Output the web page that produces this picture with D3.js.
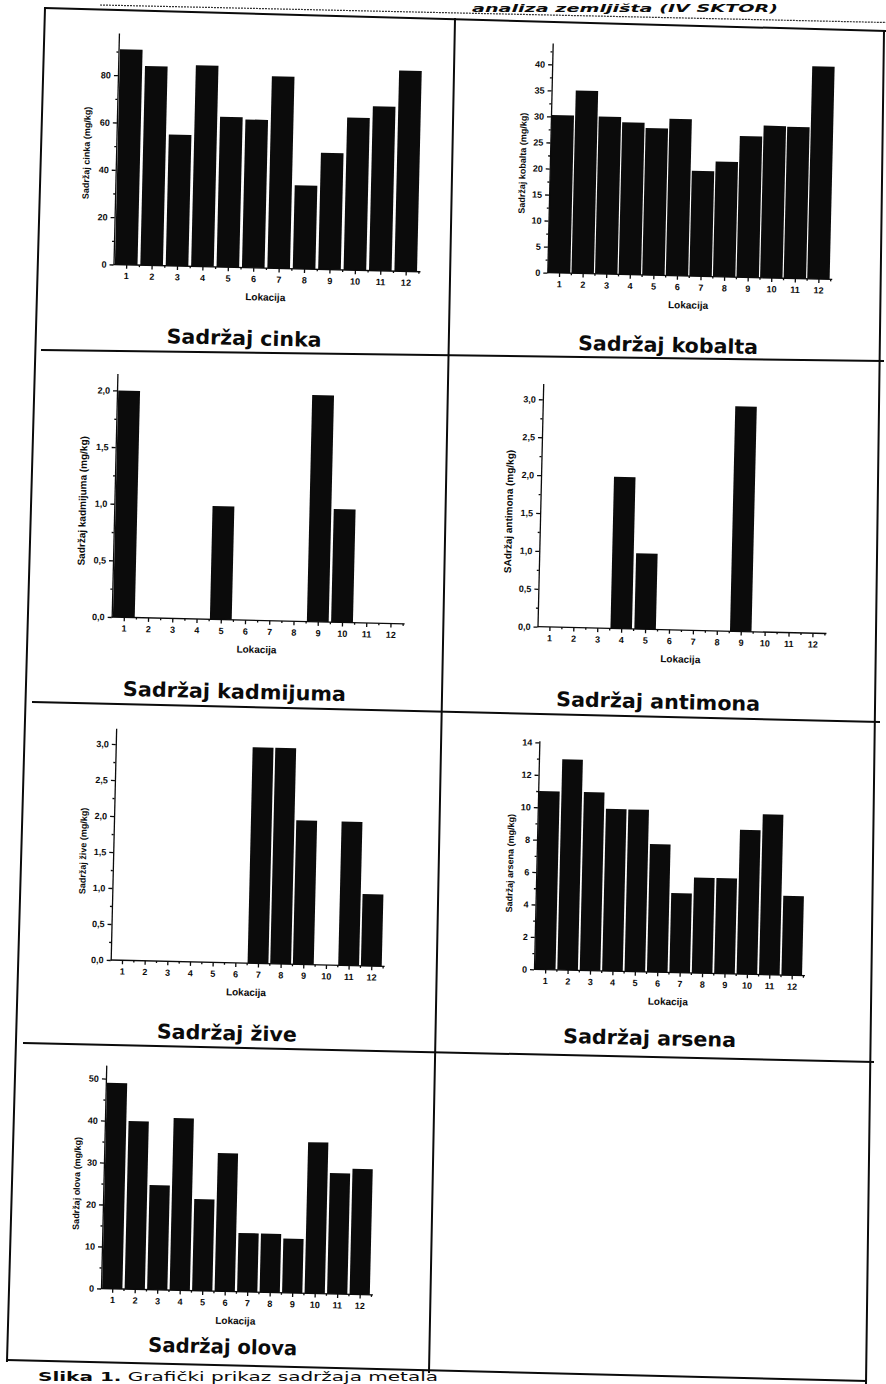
<!DOCTYPE html>
<html><head><meta charset="utf-8">
<script src="https://cdn.jsdelivr.net/npm/d3@7"></script>
<style>
html,body{margin:0;padding:0;background:#fff;}
svg{display:block;background:#fff;}
</style></head><body>
<svg id="c" width="886" height="1384"></svg>
<script>
// ---------- data ----------
const locations = [1,2,3,4,5,6,7,8,9,10,11,12];
const zinc     = [91, 84.2, 55.5, 85, 63.5, 62.6, 81.1, 35.3, 49.3, 64.4, 69.4, 84.8];
const cobalt   = [30.3, 35.1, 30.2, 29.2, 28.2, 30.1, 20.2, 22.1, 27.1, 29.2, 29.1, 40.8];
const cadmium  = [2, 0, 0, 0, 1, 0, 0, 0, 2, 1, 0, 0];
const antimony = [0, 0, 0, 2, 1, 0, 0, 0, 2.97, 0, 0, 0];
const mercury  = [0, 0, 0, 0, 0, 0, 3, 3, 2, 0, 2, 1];
const arsenic  = [11, 13, 11, 10, 10, 7.9, 4.9, 5.9, 5.9, 8.9, 9.9, 4.9];
const lead     = [49, 40, 24.9, 41, 21.8, 32.9, 14, 14, 12.9, 36, 28.8, 29.9];

const zincTicks     = [0, 20, 40, 60, 80];
const cobaltTicks   = [0, 5, 10, 15, 20, 25, 30, 35, 40];
const cadmiumTicks  = [0, 0.5, 1, 1.5, 2];
const antimonyTicks = [0, 0.5, 1, 1.5, 2, 2.5, 3];
const mercuryTicks  = [0, 0.5, 1, 1.5, 2, 2.5, 3];
const arsenicTicks  = [0, 2, 4, 6, 8, 10, 12, 14];
const leadTicks     = [0, 10, 20, 30, 40, 50];

const xLabel = "Lokacija";
const yLabels = ["Sadržaj cinka (mg/kg)", "Sadržaj kobalta (mg/kg)", "Sadržaj kadmijuma (mg/kg)",
                 "SAdržaj antimona (mg/kg)", "Sadržaj žive (mg/kg)", "Sadržaj arsena (mg/kg)", "Sadržaj olova (mg/kg)"];
const titles = ["Sadržaj cinka", "Sadržaj kobalta", "Sadržaj kadmijuma", "Sadržaj antimona",
                "Sadržaj žive", "Sadržaj arsena", "Sadržaj olova"];
const headingText = "analiza zemljišta (IV SKTOR)";
const captionBold = "Slika 1.";
const captionRest = " Grafički prikaz sadržaja metala";

// ---------- layout ----------
const ROT = 1.35;
const comma = d3.formatLocale({decimal: ",", thousands: ".", grouping: [3], currency: ["", ""]});
const f1 = comma.format(".1f"), f0 = comma.format("d");

const charts = [
  {v: zinc,     t: zincTicks,     fmt: f0, ox: 113.5, oy: 264.5, span: 305, ppu: 2.367, top: 97.8, yu: -29.6, yv: -111,   ys: 9,  bw: 0.89, tx: 244,   ty: 345,    tw: 155},
  {v: cobalt,   t: cobaltTicks,   fmt: f0, ox: 547.3, oy: 272.7, span: 283, ppu: 5.21,  top: 44.1, yu: -27.3, yv: -108.8, ys: 9,  bw: 0.95, tx: 668,   ty: 352,    tw: 180},
  {v: cadmium,  t: cadmiumTicks,  fmt: f1, ox: 111.7, oy: 617,   span: 291, ppu: 113.3, top: 2.15, yu: -31.9, yv: -115.5, ys: 10, bw: 0.9,  tx: 234.3, ty: 698.5,  tw: 223},
  {v: antimony, t: antimonyTicks, fmt: f1, ox: 537.5, oy: 626.7, span: 287, ppu: 75.8,  top: 3.21, yu: -31.3, yv: -114.5, ys: 10, bw: 0.9,  tx: 658,   ty: 708.5,  tw: 204},
  {v: mercury,  t: mercuryTicks,  fmt: f1, ox: 110.7, oy: 960,   span: 272, ppu: 72,    top: 3.22, yu: -30.2, yv: -108.4, ys: 9,  bw: 0.92, tx: 226.7, ty: 1040,   tw: 140},
  {v: arsenic,  t: arsenicTicks,  fmt: f0, ox: 534,   oy: 969.3, span: 269, ppu: 16.21, top: 14.1, yu: -26.4, yv: -105.5, ys: 9,  bw: 0.92, tx: 649.5, ty: 1045,   tw: 173},
  {v: lead,     t: leadTicks,     fmt: f0, ox: 101,   oy: 1288.5,span: 270, ppu: 4.2,   top: 53.2, yu: -26.7, yv: -104.6, ys: 9,  bw: 0.9,  tx: 222.5, ty: 1353.5, tw: 149}
];

const svg = d3.select("#c");
const INK = "#0b0b0b";

// ---------- table grid ----------
const gridLines = [
  [45, 8, 886, 31], [45, 8, 7, 1361], [455, 19, 429, 1372], [884, 31, 866, 1384],
  [42, 350, 883, 361], [33, 702, 879, 722], [24, 1043, 873, 1062], [7, 1360, 866, 1381]
];
svg.append("g").selectAll("line").data(gridLines).join("line")
  .attr("x1", d => d[0]).attr("y1", d => d[1]).attr("x2", d => d[2]).attr("y2", d => d[3])
  .attr("stroke", INK).attr("stroke-width", 2).attr("stroke-linecap", "square");

// heading and its dotted underline
svg.append("line").attr("x1", 100).attr("y1", 5).attr("x2", 886).attr("y2", 22.5)
  .attr("stroke", "#333").attr("stroke-width", 1.2).attr("stroke-dasharray", "2,1");
svg.append("text").text(headingText)
  .attr("x", 778).attr("y", 11.8).attr("text-anchor", "end")
  .attr("textLength", 306).attr("lengthAdjust", "spacingAndGlyphs")
  .attr("font-family", "DejaVu Sans, Verdana, sans-serif").attr("font-weight", "bold")
  .attr("font-style", "italic").attr("font-size", 10.5).attr("fill", INK);

// caption
const cap = svg.append("text").attr("x", 38).attr("y", 1380.5)
  .attr("textLength", 400).attr("lengthAdjust", "spacingAndGlyphs")
  .attr("font-family", "DejaVu Sans, Verdana, sans-serif").attr("font-size", 12).attr("fill", INK);
cap.append("tspan").attr("font-weight", "bold").text(captionBold);
cap.append("tspan").attr("font-weight", "normal").text(captionRest);

// ---------- charts ----------
charts.forEach((c, ci) => {
  const g = svg.append("g").attr("transform", `translate(${c.ox},${c.oy}) rotate(${ROT})`);
  const x = d3.scaleLinear().domain([0.5, 12.5]).range([0, c.span]);
  const y = d3.scaleLinear().domain([0, c.top]).range([0, -c.top * c.ppu]);
  const slot = x(2) - x(1);
  const bw = slot * c.bw;

  // bars
  g.append("g").selectAll("rect").data(c.v).join("rect")
    .attr("x", (d, i) => x(locations[i]) - bw / 2)
    .attr("width", bw)
    .attr("y", d => y(d))
    .attr("height", d => y(0) - y(d))
    .attr("fill", INK);

  // minor ticks
  const yMinor = [];
  for (let i = 0; i < c.t.length; i++) {
    const step = i < c.t.length - 1 ? c.t[i + 1] - c.t[i] : c.t[1] - c.t[0];
    const m = c.t[i] + step / 2;
    if (m < c.top) yMinor.push(m);
  }
  const xMinor = locations.map(l => l + 0.5);

  const yAx = g.append("g")
    .call(d3.axisLeft(y).tickValues(c.t).tickSize(4).tickSizeOuter(0).tickPadding(3).tickFormat(c.fmt));
  const yAxMin = g.append("g")
    .call(d3.axisLeft(y).tickValues(yMinor).tickSize(2).tickSizeOuter(0).tickFormat(""));
  yAxMin.select(".domain").remove();

  const xAx = g.append("g")
    .call(d3.axisBottom(x).tickValues(locations).tickSize(4).tickSizeOuter(0).tickPadding(4).tickFormat(d3.format("d")));
  const xAxMin = g.append("g")
    .call(d3.axisBottom(x).tickValues(xMinor).tickSize(2).tickSizeOuter(0).tickFormat(""));
  xAxMin.select(".domain").remove();
  xAx.select(".domain").attr("d", `M0,0H${c.span + 2}`);

  [yAx, yAxMin, xAx, xAxMin].forEach(a => {
    a.selectAll("path,line").attr("stroke", INK).attr("stroke-width", 1.3);
    a.selectAll("text").attr("font-family", "Liberation Sans, Arial, sans-serif")
      .attr("font-weight", "bold").attr("font-size", 9).attr("fill", INK);
  });

  // axis titles
  g.append("text").text(xLabel)
    .attr("x", c.span / 2).attr("y", 32.5).attr("text-anchor", "middle")
    .attr("font-family", "Liberation Sans, Arial, sans-serif").attr("font-weight", "bold")
    .attr("font-size", 10).attr("fill", INK);
  g.append("text").text(yLabels[ci])
    .attr("transform", `translate(${c.yu},${c.yv}) rotate(-90)`)
    .attr("text-anchor", "middle").attr("dy", "0.35em")
    .attr("font-family", "Liberation Sans, Arial, sans-serif").attr("font-weight", "bold")
    .attr("font-size", c.ys).attr("fill", INK);

  // cell title
  svg.append("text").text(titles[ci])
    .attr("x", c.tx).attr("y", c.ty).attr("text-anchor", "middle")
    .attr("transform", `rotate(${ROT},${c.tx},${c.ty})`)
    .attr("textLength", c.tw).attr("lengthAdjust", "spacingAndGlyphs")
    .attr("font-family", "DejaVu Sans, Verdana, sans-serif").attr("font-weight", "bold")
    .attr("font-size", 20).attr("fill", INK);
});
</script>
</body></html>
